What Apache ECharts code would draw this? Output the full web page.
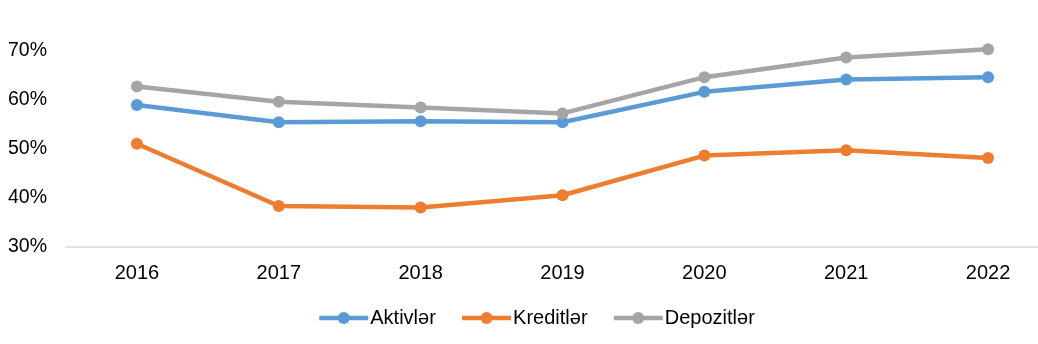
<!DOCTYPE html>
<html>
<head>
<meta charset="utf-8">
<script src="https://cdn.jsdelivr.net/npm/echarts@6/dist/echarts.min.js"></script>
<style>
html,body{margin:0;padding:0;background:#fff;}
#c{width:1038px;height:344px;}
</style>
</head>
<body>
<div id="c"></div>
<script>
const categories = ['2016','2017','2018','2019','2020','2021','2022'];
const aktivler = [58.9, 55.4, 55.6, 55.4, 61.6, 64.1, 64.6];
const kreditler = [51.0, 38.3, 38.0, 40.5, 48.6, 49.7, 48.1];
const depozitler = [62.7, 59.6, 58.4, 57.2, 64.6, 68.6, 70.3];
const seriesNames = ['Aktivlər','Kreditlər','Depozitlər'];
const colors = ['#5B9BD5','#ED7D31','#A5A5A5'];

const chart = echarts.init(document.getElementById('c'));
const font = 'Liberation Sans, Arial, sans-serif';
function mk(name, data, color){
  return {
    name: name, type: 'line', data: data,
    symbol: 'circle', symbolSize: 12, clip: false,
    lineStyle: {color: color, width: 4.5},
    itemStyle: {color: color},
    emphasis: {disabled: true},
    animation: false
  };
}
chart.setOption({
  animation: false,
  grid: {left: 66, width: 993, top: 50.7, height: 196, containLabel: false, outerBoundsMode: 'none'},
  xAxis: {
    type: 'category', data: categories, boundaryGap: true,
    axisLine: {show: true, lineStyle: {color: '#D9D9D9', width: 1.5}},
    axisTick: {show: false},
    axisLabel: {color: '#000', fontSize: 20, fontFamily: font, margin: 17}
  },
  yAxis: {
    type: 'value', min: 30, max: 70, interval: 10,
    axisLine: {show: false}, axisTick: {show: false},
    splitLine: {show: false},
    axisLabel: {color: '#000', fontSize: 19.5, fontFamily: font, margin: 19, formatter: v => v + '%'}
  },
  legend: {
    left: 312, top: 303, itemWidth: 49, itemHeight: 15, itemGap: 24,
    lineStyle: {width: 4.5},
    textStyle: {color: '#000', fontSize: 20, fontFamily: font, padding: [0,0,0,-3]},
    data: seriesNames
  },
  series: [
    mk(seriesNames[0], aktivler, colors[0]),
    mk(seriesNames[1], kreditler, colors[1]),
    mk(seriesNames[2], depozitler, colors[2])
  ]
});
</script>
</body>
</html>
